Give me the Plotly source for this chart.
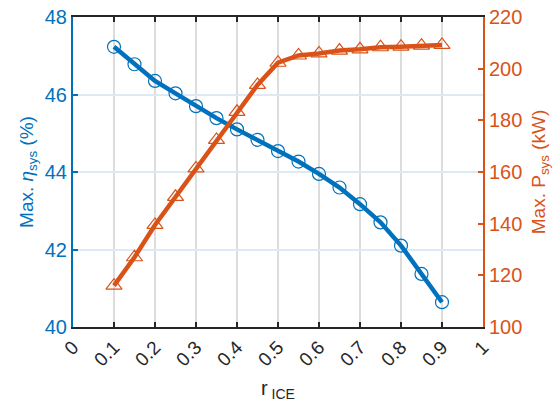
import plotly.graph_objects as go

r_ice = [0.1, 0.15, 0.2, 0.25, 0.3, 0.35, 0.4, 0.45, 0.5, 0.55, 0.6, 0.65, 0.7, 0.75, 0.8, 0.85, 0.9]
eta_sys = [47.23, 46.78, 46.35, 46.03, 45.70, 45.39, 45.10, 44.83, 44.54, 44.27, 43.95, 43.60, 43.17, 42.70, 42.10, 41.37, 40.64]
p_sys = [116.0, 127.0, 139.5, 150.4, 161.4, 172.4, 183.3, 193.7, 202.3, 205.1, 205.9, 207.0, 207.5, 208.3, 208.5, 208.9, 209.2]

x_ticks = [0, 0.1, 0.2, 0.3, 0.4, 0.5, 0.6, 0.7, 0.8, 0.9, 1]
y_ticks = [40, 42, 44, 46, 48]
y2_ticks = [100, 120, 140, 160, 180, 200, 220]

BLUE = "#0072BD"
ORANGE = "#D95319"
FONT = "Liberation Sans, Arial, sans-serif"

fig = go.Figure()
fig.add_trace(go.Scatter(
    x=r_ice, y=eta_sys, mode="lines+markers",
    line=dict(color=BLUE, width=4.5),
    marker=dict(symbol="circle-open", size=13, color=BLUE, line=dict(width=1.2, color=BLUE)),
    showlegend=False, yaxis="y"))
fig.add_trace(go.Scatter(
    x=r_ice, y=p_sys, mode="lines+markers",
    line=dict(color=ORANGE, width=4.5),
    marker=dict(symbol="triangle-up-open", size=14, color=ORANGE, line=dict(width=1.2, color=ORANGE)),
    showlegend=False, yaxis="y2"))

fig.update_layout(
    width=556, height=410,
    margin=dict(l=73, r=73, t=17, b=83),
    paper_bgcolor="white", plot_bgcolor="white",
    font=dict(family=FONT, size=19, color="#262626"),
    xaxis=dict(
        range=[0, 1], tickvals=x_ticks, tickangle=-45, automargin=False,
        ticklabeloverflow="allow",
        ticks="inside", ticklen=5, tickwidth=1.5, tickcolor="#262626",
        showline=True, linecolor="#262626", linewidth=1.5, mirror="ticks",
        showgrid=True, gridcolor="#dcdcdc", gridwidth=1.5, zeroline=False,
        tickfont=dict(size=19, color="#262626"),
        title=dict(text="r<sub> ICE</sub>", font=dict(size=20, color="#262626"), standoff=12),
    ),
    yaxis=dict(
        range=[40, 48], tickvals=y_ticks, automargin=False,
        ticklabeloverflow="allow",
        ticks="inside", ticklen=5, tickwidth=1.5, tickcolor=BLUE,
        showline=True, linecolor=BLUE, linewidth=2,
        showgrid=True, gridcolor="#dde9f4", gridwidth=1.5, zeroline=False,
        tickfont=dict(size=20, color=BLUE),
        title=dict(text="Max. <i>η</i><sub>sys</sub> (%)", font=dict(size=19, color=BLUE), standoff=6),
    ),
    yaxis2=dict(
        range=[100, 220], tickvals=y2_ticks, overlaying="y", side="right", automargin=False,
        ticklabeloverflow="allow",
        ticks="inside", ticklen=5, tickwidth=1.5, tickcolor=ORANGE,
        showline=True, linecolor=ORANGE, linewidth=2,
        showgrid=False, zeroline=False,
        tickfont=dict(size=20, color=ORANGE),
        title=dict(text="Max. P<sub>sys</sub> (kW)", font=dict(size=19, color=ORANGE), standoff=10),
    ),
)

fig.write_html("out.html", config={"displayModeBar": False},
               post_script="document.body.style.margin='0';")
